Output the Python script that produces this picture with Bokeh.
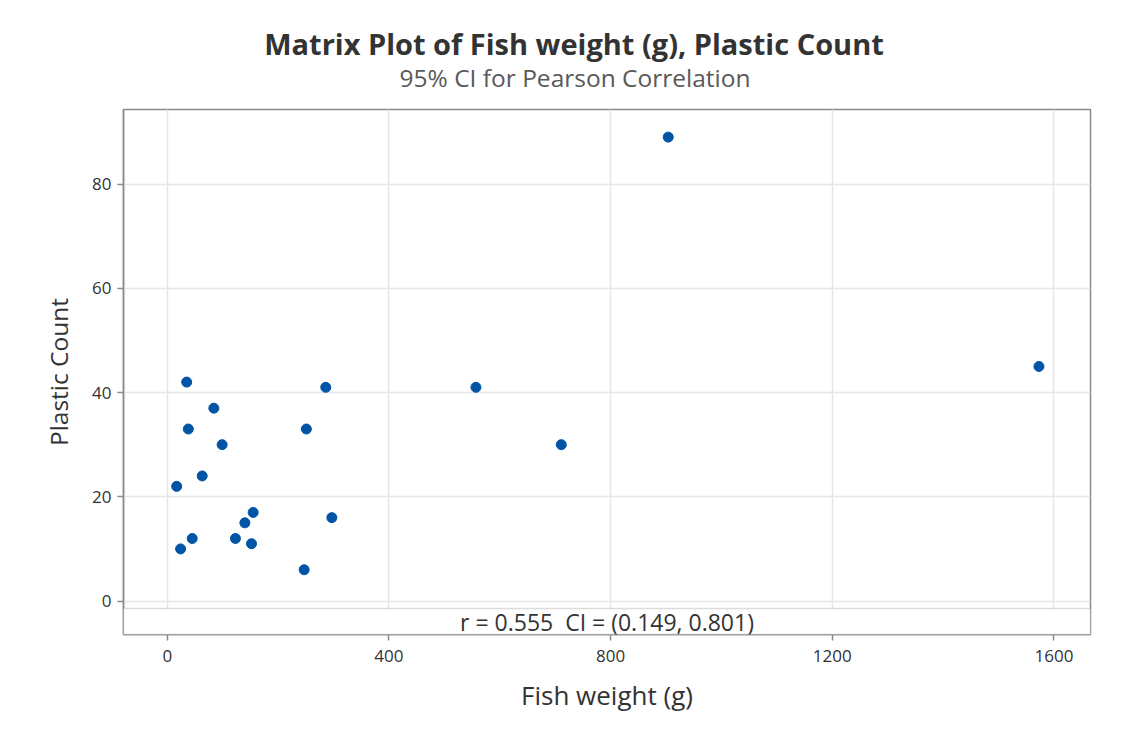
from bokeh.plotting import figure
from bokeh.layouts import column
from bokeh.models import Range1d, FixedTicker, BoxAnnotation, Label
from bokeh.core.properties import value
from bokeh.embed import file_html
from bokeh.resources import INLINE

# ---- data ----
fish_weight = [35, 286, 84, 38, 251, 99, 63, 17, 155, 140, 297, 45, 123, 152, 24, 247, 557, 711, 904, 1573]
plastic_count = [42, 41, 37, 33, 33, 30, 24, 22, 17, 15, 16, 12, 12, 11, 10, 6, 41, 30, 89, 45]
x_ticks = [0, 400, 800, 1200, 1600]
y_ticks = [0, 20, 40, 60, 80]
title_text = "Matrix Plot of Fish weight (g), Plastic Count"
subtitle_text = "95% CI for Pearson Correlation"
x_label = "Fish weight (g)"
y_label = "Plastic Count"
r_value = 0.555
ci_low = 0.149
ci_high = 0.801

FONT = "Open Sans"
TXT = "#333333"
FRAME = "#8a8a8a"

W = 1136
HEAD_H = 100                 # strip that carries the titles
MAIN_H = 734 - HEAD_H
BL, BR, BT, BB = 123, 46, 9, 100
x0, x1 = -79, 1666
y0, y1 = -6.42, 94.3
band_top = -1.44

# ---- title strip (pixel coordinates of the page, y measured downward) ----
head = figure(width=W, height=HEAD_H, output_backend="svg", toolbar_location=None,
              x_range=Range1d(BL, W - BR), y_range=Range1d(HEAD_H, 0),
              x_axis_type=None, y_axis_type=None,
              min_border_left=BL, min_border_right=BR, min_border_top=0, min_border_bottom=0)
head.outline_line_color = None
head.grid.visible = False
head.background_fill_color = "white"
head.border_fill_color = "white"
head.text(x=[573.5], y=[43], text=[title_text], text_align="center", text_baseline="middle",
          text_font=value(FONT), text_font_size="29px", text_font_style="bold", text_color=TXT)
head.text(x=[574.5], y=[77], text=[subtitle_text], text_align="center", text_baseline="middle",
          text_font=value(FONT), text_font_size="24.5px", text_color="#595959")

# ---- main scatter ----
p = figure(width=W, height=MAIN_H, output_backend="svg", toolbar_location=None,
           x_range=Range1d(x0, x1), y_range=Range1d(y0, y1),
           min_border_left=BL, min_border_right=BR, min_border_top=BT, min_border_bottom=BB)

p.background_fill_color = "white"
p.border_fill_color = "white"
p.outline_line_color = FRAME
p.outline_line_width = 1.5

for ax in (p.xaxis[0], p.yaxis[0]):
    ax.axis_line_color = FRAME
    ax.axis_line_width = 1.5
    ax.major_tick_line_color = FRAME
    ax.major_tick_line_width = 1.5
    ax.major_tick_out = 6
    ax.major_tick_in = 0
    ax.minor_tick_line_color = None
    ax.major_label_text_font = FONT
    ax.major_label_text_font_size = "17px"
    ax.major_label_text_color = TXT
    ax.axis_label_text_font = FONT
    ax.axis_label_text_font_style = "normal"
    ax.axis_label_text_color = TXT

p.xaxis.axis_label_text_font_size = "26px"
p.yaxis.axis_label_text_font_size = "24.5px"
p.xaxis.ticker = FixedTicker(ticks=x_ticks)
p.yaxis.ticker = FixedTicker(ticks=y_ticks)
p.xaxis.axis_label = x_label
p.yaxis.axis_label = y_label
p.xaxis.major_label_standoff = 9
p.xaxis.axis_label_standoff = 12
p.yaxis.major_label_standoff = 6
p.yaxis.axis_label_standoff = 14

p.grid.grid_line_color = "#e6e6e6"
p.grid.grid_line_width = 1.5

p.scatter(fish_weight, plastic_count, size=10, color="#0054a6", marker="circle")

band = BoxAnnotation(top=band_top, fill_color="white", fill_alpha=1.0,
                     line_color=FRAME, line_width=1.5)
p.add_layout(band)

ci_text = f"r = {r_value:.3f}\u00a0 CI = ({ci_low:.3f}, {ci_high:.3f})"
p.add_layout(Label(x=(x0 + x1) / 2, y=(band_top + y0) / 2, text=ci_text,
                   text_align="center", text_baseline="middle",
                   text_font=FONT, text_font_size="23px", text_color=TXT))

layout = column(head, p, spacing=0)
open("out.html", "w").write(file_html(layout, INLINE))
